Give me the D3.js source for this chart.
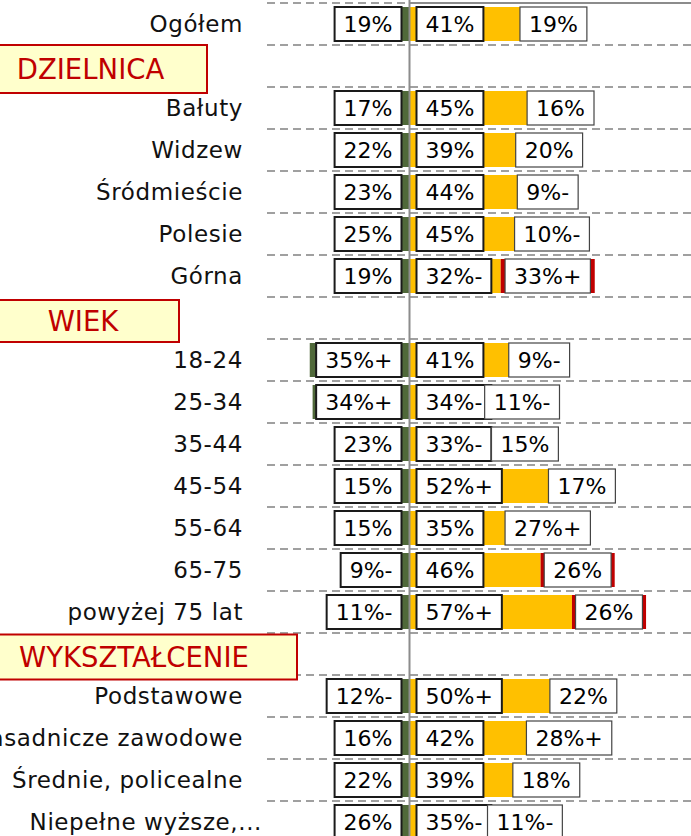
<!DOCTYPE html>
<html>
<head>
<meta charset="utf-8">
<script src="https://cdn.jsdelivr.net/npm/d3@7"></script>
<style>
  html, body { margin: 0; padding: 0; background: #fff; overflow: hidden; }
  svg { display: block; }
</style>
</head>
<body>
<script>
// Row labels, top to bottom; section headers occupy their own (empty) rows
const categories = ["Ogółem", "DZIELNICA", "Bałuty", "Widzew", "Śródmieście", "Polesie", "Górna",
  "WIEK", "18-24", "25-34", "35-44", "45-54", "55-64", "65-75", "powyżej 75 lat",
  "WYKSZTAŁCENIE", "Podstawowe", "Zasadnicze zawodowe", "Średnie, policealne", "Niepełne wyższe,..."];
const sectionHeaders = ["DZIELNICA", "WIEK", "WYKSZTAŁCENIE"];

// Percent shares per row (null = header row)
const greenValues  = [19, null, 17, 22, 23, 25, 19, null, 35, 34, 23, 15, 15,  9, 11, null, 12, 16, 22, 26];
const yellowValues = [41, null, 45, 39, 44, 45, 32, null, 41, 34, 33, 52, 35, 46, 57, null, 50, 42, 39, 35];
const redValues    = [19, null, 16, 20,  9, 10, 33, null,  9, 11, 15, 17, 27, 26, 26, null, 22, 28, 18, 11];

// Significance markers printed after each value
const greenMarks  = ["", null, "", "", "", "", "", null, "+", "+", "", "", "", "-", "-", null, "-", "", "", ""];
const yellowMarks = ["", null, "", "", "", "", "-", null, "", "-", "-", "+", "", "", "+", null, "+", "", "", "-"];
const redMarks    = ["", null, "", "", "-", "-", "+", null, "-", "-", "", "", "+", "", "", null, "", "+", "", "-"];

const W = 691, H = 836;
const FONT = "'DejaVu Sans', Verdana, sans-serif";
const COLORS = { green: "#50693A", yellow: "#FFC000", red: "#C00000", grid: "#A0A0A0", axis: "#8C8C8C" };

const svg = d3.select("body").append("svg").attr("width", W).attr("height", H);

const x = d3.scaleLinear().domain([-50, 100]).range([267, 694.5]);
const rows = d3.range(categories.length);
const y = d3.scaleBand().domain(rows).range([3, 3 + 42 * rows.length])
  .paddingInner(8 / 42).paddingOuter(4 / 42);
const step = y.step();
const bw = y.bandwidth();

// dashed gridlines between rows
const gridG = svg.append("g");
d3.range(rows.length + 1).forEach(k => {
  const gy = y.range()[0] + k * step;
  gridG.append("line")
    .attr("x1", x.range()[0]).attr("x2", x.range()[1])
    .attr("y1", gy).attr("y2", gy)
    .attr("stroke", COLORS.grid).attr("stroke-width", 2)
    .attr("stroke-dasharray", "8,5");
});
// top border of the plot on the right of the axis
svg.append("line")
  .attr("x1", x(0)).attr("x2", x.range()[1])
  .attr("y1", y.range()[0]).attr("y2", y.range()[0])
  .attr("stroke", COLORS.axis).attr("stroke-width", 2);

const dataRows = rows.filter(i => greenValues[i] !== null);

// bars
const barG = svg.append("g");
barG.selectAll("rect.g").data(dataRows).join("rect")
  .attr("x", i => x(-greenValues[i])).attr("width", i => x(0) - x(-greenValues[i]))
  .attr("y", i => y(i)).attr("height", bw).attr("fill", COLORS.green);
barG.selectAll("rect.y").data(dataRows).join("rect")
  .attr("x", x(0)).attr("width", i => x(yellowValues[i]) - x(0))
  .attr("y", i => y(i)).attr("height", bw).attr("fill", COLORS.yellow);
barG.selectAll("rect.r").data(dataRows).join("rect")
  .attr("x", i => x(yellowValues[i])).attr("width", i => x(yellowValues[i] + redValues[i]) - x(yellowValues[i]))
  .attr("y", i => y(i)).attr("height", bw).attr("fill", COLORS.red);

// vertical zero axis
svg.append("line")
  .attr("x1", x(0)).attr("x2", x(0))
  .attr("y1", 0).attr("y2", H)
  .attr("stroke", COLORS.axis).attr("stroke-width", 2);

// value labels in white boxes
const labelG = svg.append("g");
function addLabel(i, text, placement, seg) {
  const g = labelG.append("g");
  const rect = g.append("rect");
  const t = g.append("text").text(text)
    .attr("font-family", FONT).attr("font-size", 22).attr("fill", "#000")
    .attr("text-anchor", "middle");
  const w = t.node().getComputedTextLength() + 18;
  let bx;
  if (placement === "left") bx = x(0) - 8 - w;
  else if (placement === "right") bx = x(0) + 7;
  else bx = (seg[0] + seg[1]) / 2 - w / 2;
  const thin = placement === "center";
  rect.attr("x", bx).attr("y", y(i)).attr("width", w).attr("height", bw)
    .attr("fill", "#fff")
    .attr("stroke", thin ? "#444" : "#1a1a1a")
    .attr("stroke-width", thin ? 1.2 : 2);
  t.attr("x", bx + w / 2).attr("y", y(i) + bw / 2).attr("dy", "0.36em");
}
dataRows.forEach(i => {
  addLabel(i, greenValues[i] + "%" + greenMarks[i], "left");
  addLabel(i, yellowValues[i] + "%" + yellowMarks[i], "right");
  addLabel(i, redValues[i] + "%" + redMarks[i], "center",
    [x(yellowValues[i]), x(yellowValues[i] + redValues[i])]);
});

// category labels
svg.append("g").selectAll("text").data(dataRows).join("text")
  .attr("x", i => categories[i].endsWith("...") ? 262 : 243)
  .attr("y", i => y(i) + bw / 2).attr("dy", "0.36em")
  .attr("text-anchor", "end")
  .attr("font-family", FONT).attr("font-size", 23).attr("letter-spacing", 0.6)
  .attr("fill", "#111")
  .text(i => categories[i]);

// section header boxes
const headerBoxes = { "DZIELNICA": [-26, 233, 48], "WIEK": [-13, 192, 42], "WYKSZTAŁCENIE": [-29, 326, 45] };
sectionHeaders.forEach(name => {
  const i = categories.indexOf(name);
  const [bx, w, h] = headerBoxes[name];
  const cy = y(i) + bw / 2 + 3;
  svg.append("rect").attr("x", bx).attr("y", cy - h / 2).attr("width", w).attr("height", h)
    .attr("fill", "#FFFFCC").attr("stroke", "#C00000").attr("stroke-width", 2);
  svg.append("text").attr("x", bx + w / 2).attr("y", cy).attr("dy", "0.36em")
    .attr("text-anchor", "middle").attr("font-family", FONT).attr("font-size", 27.5)
    .attr("fill", "#C00000").text(name);
});
</script>
</body>
</html>
